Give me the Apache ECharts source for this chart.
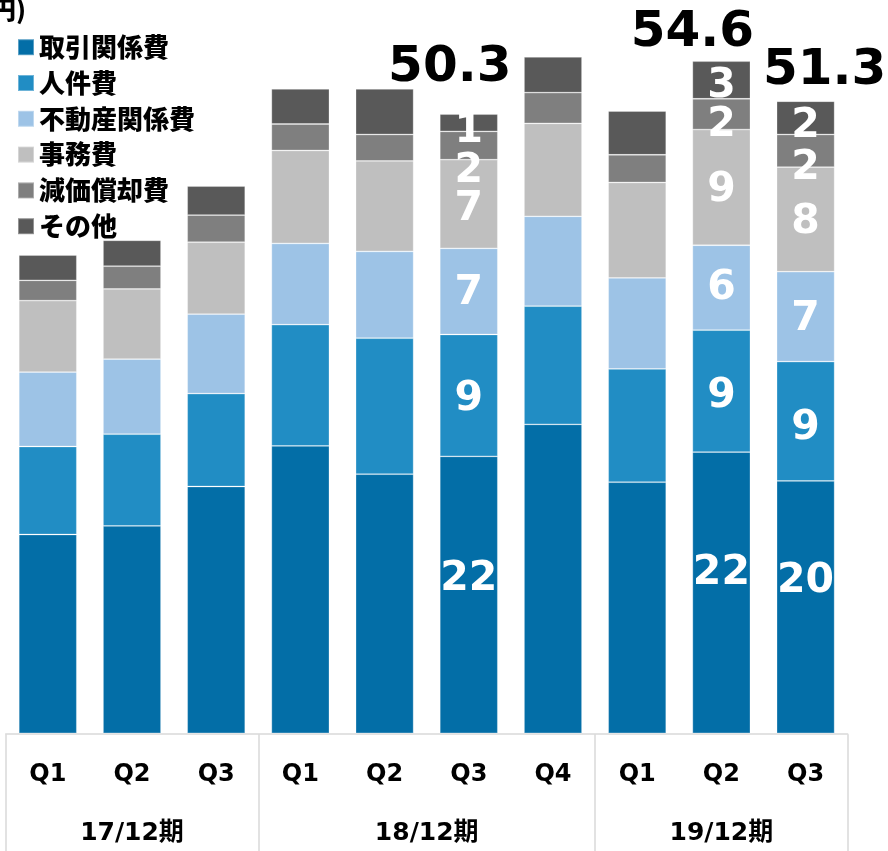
<!DOCTYPE html>
<html>
<head>
<meta charset="utf-8">
<script src="https://cdn.jsdelivr.net/npm/echarts@6/dist/echarts.min.js"></script>
<style>html,body{margin:0;padding:0;background:#fff;}#c{width:888px;height:851px;}</style>
</head>
<body>
<div id="c"></div>
<script>
// ---- data ----
const categories = ['Q1','Q2','Q3','Q1','Q2','Q3','Q4','Q1','Q2','Q3'];
const periods = ['17/12期','18/12期','19/12期'];
const periodSizes = [3, 4, 3];
const seriesNames = ['取引関係費','人件費','不動産関係費','事務費','減価償却費','その他'];
const torihiki = [16.15, 16.85, 20.05, 23.35, 21.05, 22.5, 25.1, 20.4, 22.85, 20.5];
const jinken   = [7.15, 7.45, 7.55, 9.85, 11.05, 9.9, 9.6, 9.2, 9.9, 9.7];
const fudosan  = [6.05, 6.1, 6.45, 6.6, 7.05, 7.0, 7.3, 7.4, 6.9, 7.3];
const jimu     = [5.8, 5.7, 5.85, 7.55, 7.35, 7.2, 7.55, 7.75, 9.4, 8.5];
const genka    = [1.65, 1.85, 2.2, 2.15, 2.15, 2.3, 2.5, 2.25, 2.5, 2.65];
const sonota   = [2.05, 2.1, 2.35, 2.85, 3.7, 1.4, 2.9, 3.55, 3.05, 2.7];
const totals   = [null, null, null, null, null, 50.3, null, null, 54.6, 51.3];
const labeledBars = [5, 8, 9];
const unitText = '(億円)';

// ---- style / layout ----
const colors = ['#036EA7','#218DC4','#9DC3E6','#BFBFBF','#7F7F7F','#595959'];
const gridLeft = 5.7, gridRight = 40.3, gridTop = 56.3, gridBottom = 117.7;
const bandW = (888 - gridLeft - gridRight) / categories.length;
const labelDy = [
  {5: -15, 8: -19, 9: -26},
  {5: 4, 8: 5, 9: 7},
  {5: 2, 8: 1, 9: 3},
  {5: 5, 8: 3, 9: 3},
  {5: 26, 8: 11, 9: 18},
  {5: 9, 8: 6, 9: 8}
];
const totalOffsets = {5: [-19, -46], 8: [-29, -28], 9: [19, -31]};
const latin = '"DejaVu Sans", "Noto Sans CJK JP", sans-serif';
const cjk = '"Noto Sans CJK JP", sans-serif';

const valueSets = [torihiki, jinken, fudosan, jimu, genka, sonota];

// group label placement (second axis)
const groupLabel = {};
let start = 0;
periodSizes.forEach((n, g) => {
  const center = start + (n - 1) / 2;
  const idx = Math.ceil(center);
  groupLabel[idx] = { text: periods[g], pad: (idx - center) * 2 * bandW };
  start += n;
});
const boundaries = [];
start = 0;
periodSizes.forEach(n => { boundaries.push(start); start += n; });

const series = valueSets.map((vals, s) => ({
  name: seriesNames[s],
  type: 'bar',
  stack: 'total',
  barWidth: 58,
  data: vals.map((v, i) => {
    const item = { value: v };
    if (labeledBars.includes(i)) {
      item.label = {
        show: true,
        position: 'inside',
        offset: [0, labelDy[s][i] || 0],
        formatter: p => String(Math.floor(p.value + 1e-9)),
        color: '#fff',
        fontSize: 41,
        fontWeight: 'bold',
        fontFamily: latin
      };
    }
    return item;
  }),
  itemStyle: { color: colors[s], borderColor: 'rgba(255,255,255,0.35)', borderWidth: 0.8 },
  label: { show: false },
  emphasis: { disabled: true }
}));

series.push({
  name: 'total',
  type: 'scatter',
  symbolSize: 0,
  z: 10,
  itemStyle: { opacity: 1, color: '#000' },
  data: totals.map((t, i) => t == null ? '-' : {
    value: t,
    label: {
      show: true,
      position: 'inside',
      offset: totalOffsets[i] || [0, 0],
      formatter: p => p.value.toFixed(1),
      color: '#000',
      textBorderWidth: 0,
      opacity: 1,
      fontSize: 50,
      fontWeight: 'bold',
      fontFamily: latin
    }
  }),
  emphasis: { disabled: true },
  silent: true
});

const groupFont = { fontSize: 25, fontWeight: 'bold', fontFamily: latin, color: '#000' };
const rich = { g: groupFont };
Object.keys(groupLabel).forEach(k => {
  if (groupLabel[k].pad > 0) {
    rich['p' + k] = Object.assign({}, groupFont, { padding: [0, groupLabel[k].pad, 0, 0] });
  }
});

const chart = echarts.init(document.getElementById('c'), null, { renderer: 'canvas' });
chart.setOption({
  animation: false,
  backgroundColor: '#fff',
  graphic: [{
    type: 'text', x: -44, y: -3,
    style: { text: unitText, fontSize: 25, fontWeight: 900, fontFamily: cjk, fill: '#000' }
  }],
  legend: {
    data: seriesNames,
    orient: 'vertical',
    left: 17, top: 34.2,
    padding: 0,
    icon: 'rect',
    itemWidth: 16, itemHeight: 16,
    itemGap: 9.8,
    selectedMode: false,
    textStyle: { fontSize: 26, fontWeight: 900, fontFamily: cjk, color: '#000' }
  },
  grid: { left: gridLeft, right: gridRight, top: gridTop, bottom: gridBottom, containLabel: false },
  xAxis: [{
    type: 'category',
    data: categories,
    position: 'bottom',
    offset: 1,
    axisLine: { show: true, lineStyle: { color: '#D9D9D9', width: 1.5 } },
    axisTick: { show: false },
    axisLabel: { interval: 0, margin: 28, fontSize: 24, fontWeight: 'bold', fontFamily: latin, color: '#000' }
  }, {
    type: 'category',
    data: categories,
    position: 'bottom',
    offset: 1,
    axisLine: { show: false },
    axisTick: {
      show: true,
      interval: (i) => boundaries.includes(i),
      length: 120,
      lineStyle: { color: '#D9D9D9', width: 1.5 }
    },
    axisLabel: {
      interval: 0,
      margin: 87,
      formatter: (v, i) => {
        const gl = groupLabel[i];
        if (!gl) return '';
        return (gl.pad > 0 ? '{p' + i + '|' : '{g|') + gl.text + '}';
      },
      rich: rich
    }
  }],
  yAxis: { type: 'value', min: 0, max: 55, show: false, splitLine: { show: false } },
  series: series
});
</script>
</body>
</html>
